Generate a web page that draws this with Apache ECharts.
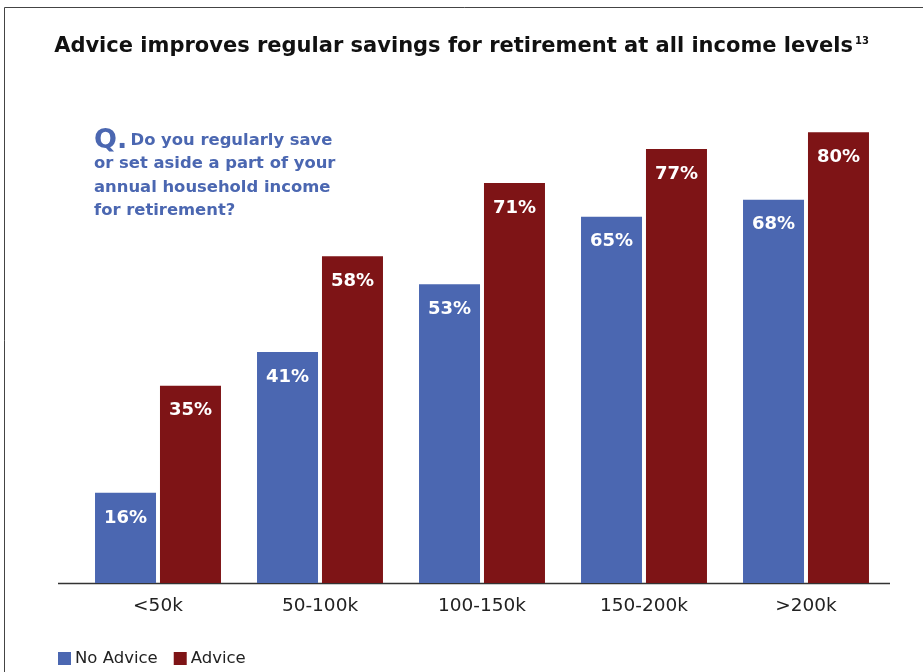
<!DOCTYPE html>
<html>
<head>
<meta charset="utf-8">
<script src="https://cdn.jsdelivr.net/npm/echarts@6/dist/echarts.min.js"></script>
<style>
  html, body { margin: 0; padding: 0; background: #ffffff; }
  #chart { width: 923px; height: 672px; }
</style>
</head>
<body>
<div id="chart"></div>
<script>
// Income brackets and share who regularly save for retirement (%)
const categories = ['<50k', '50-100k', '100-150k', '150-200k', '>200k'];
const noAdvice = [16, 41, 53, 65, 68];
const advice = [35, 58, 71, 77, 80];
const seriesNames = ['No Advice', 'Advice'];
const questionLines = [
  'Do you regularly save',
  'or set aside a part of your',
  'annual household income',
  'for retirement?'
];

const BLUE = '#4b67b1';
const RED = '#7e1416';
const WIDE = '"DejaVu Sans", Verdana, sans-serif';

const chart = echarts.init(document.getElementById('chart'), null, { renderer: 'canvas' });

const barLabel = {
  show: true,
  position: 'insideTop',
  distance: 16,
  color: '#ffffff',
  fontFamily: WIDE,
  fontWeight: 'bold',
  fontSize: 18,
  formatter: p => p.value + '%'
};

chart.setOption({
  animation: false,
  backgroundColor: '#ffffff',
  title: {
    text: '{t|Advice improves regular savings for retirement at all income levels}{s|13}',
    left: 'center',
    top: 31,
    textStyle: {
      rich: {
        t: { fontFamily: WIDE, fontWeight: 'bold', fontSize: 21, color: '#111111' },
        s: { fontFamily: WIDE, fontWeight: 'bold', fontSize: 10, color: '#111111', verticalAlign: 'top', padding: [0, 0, 12, 2] }
      }
    }
  },
  legend: {
    data: seriesNames,
    left: 53,
    bottom: 0,
    itemWidth: 13,
    itemHeight: 13,
    itemGap: 16,
    icon: 'rect',
    textStyle: { fontFamily: WIDE, fontSize: 16.5, color: '#222222', padding: [0, 0, 0, -1] }
  },
  grid: { left: 77, right: 36, top: 19.5, bottom: 89 },
  xAxis: {
    type: 'category',
    data: categories,
    axisLine: { show: false },
    axisTick: { show: false },
    axisLabel: { fontFamily: WIDE, fontSize: 18.5, color: '#222222', margin: 14 }
  },
  yAxis: {
    type: 'value',
    min: 0,
    max: 100,
    show: false,
    splitLine: { show: false }
  },
  series: [
    {
      name: seriesNames[0],
      type: 'bar',
      data: noAdvice,
      barWidth: 61,
      barGap: '6.5%',
      itemStyle: { color: BLUE },
      label: barLabel
    },
    {
      name: seriesNames[1],
      type: 'bar',
      data: advice,
      barWidth: 61,
      itemStyle: { color: RED },
      label: barLabel
    }
  ],
  graphic: [
    // page frame
    {
      type: 'rect',
      shape: { x: 4.5, y: 7.5, width: 1000, height: 1000 },
      style: { fill: 'none', stroke: '#444444', lineWidth: 1 },
      silent: true
    },
    // baseline
    {
      type: 'line',
      shape: { x1: 58, y1: 583.5, x2: 890, y2: 583.5 },
      style: { stroke: '#333333', lineWidth: 1.5 },
      silent: true
    },
    // survey question
    {
      type: 'text',
      left: 94,
      top: 127,
      style: {
        text: '{q|Q.} {b|' + questionLines[0] + '}\n{b|' + questionLines.slice(1).join('}\n{b|') + '}',
        rich: {
          q: { fontFamily: WIDE, fontWeight: 'bold', fontSize: 27, fill: BLUE, lineHeight: 23.5 },
          b: { fontFamily: WIDE, fontWeight: 'bold', fontSize: 16.4, fill: BLUE, lineHeight: 23.5 }
        }
      },
      silent: true
    }
  ]
});
</script>
</body>
</html>
